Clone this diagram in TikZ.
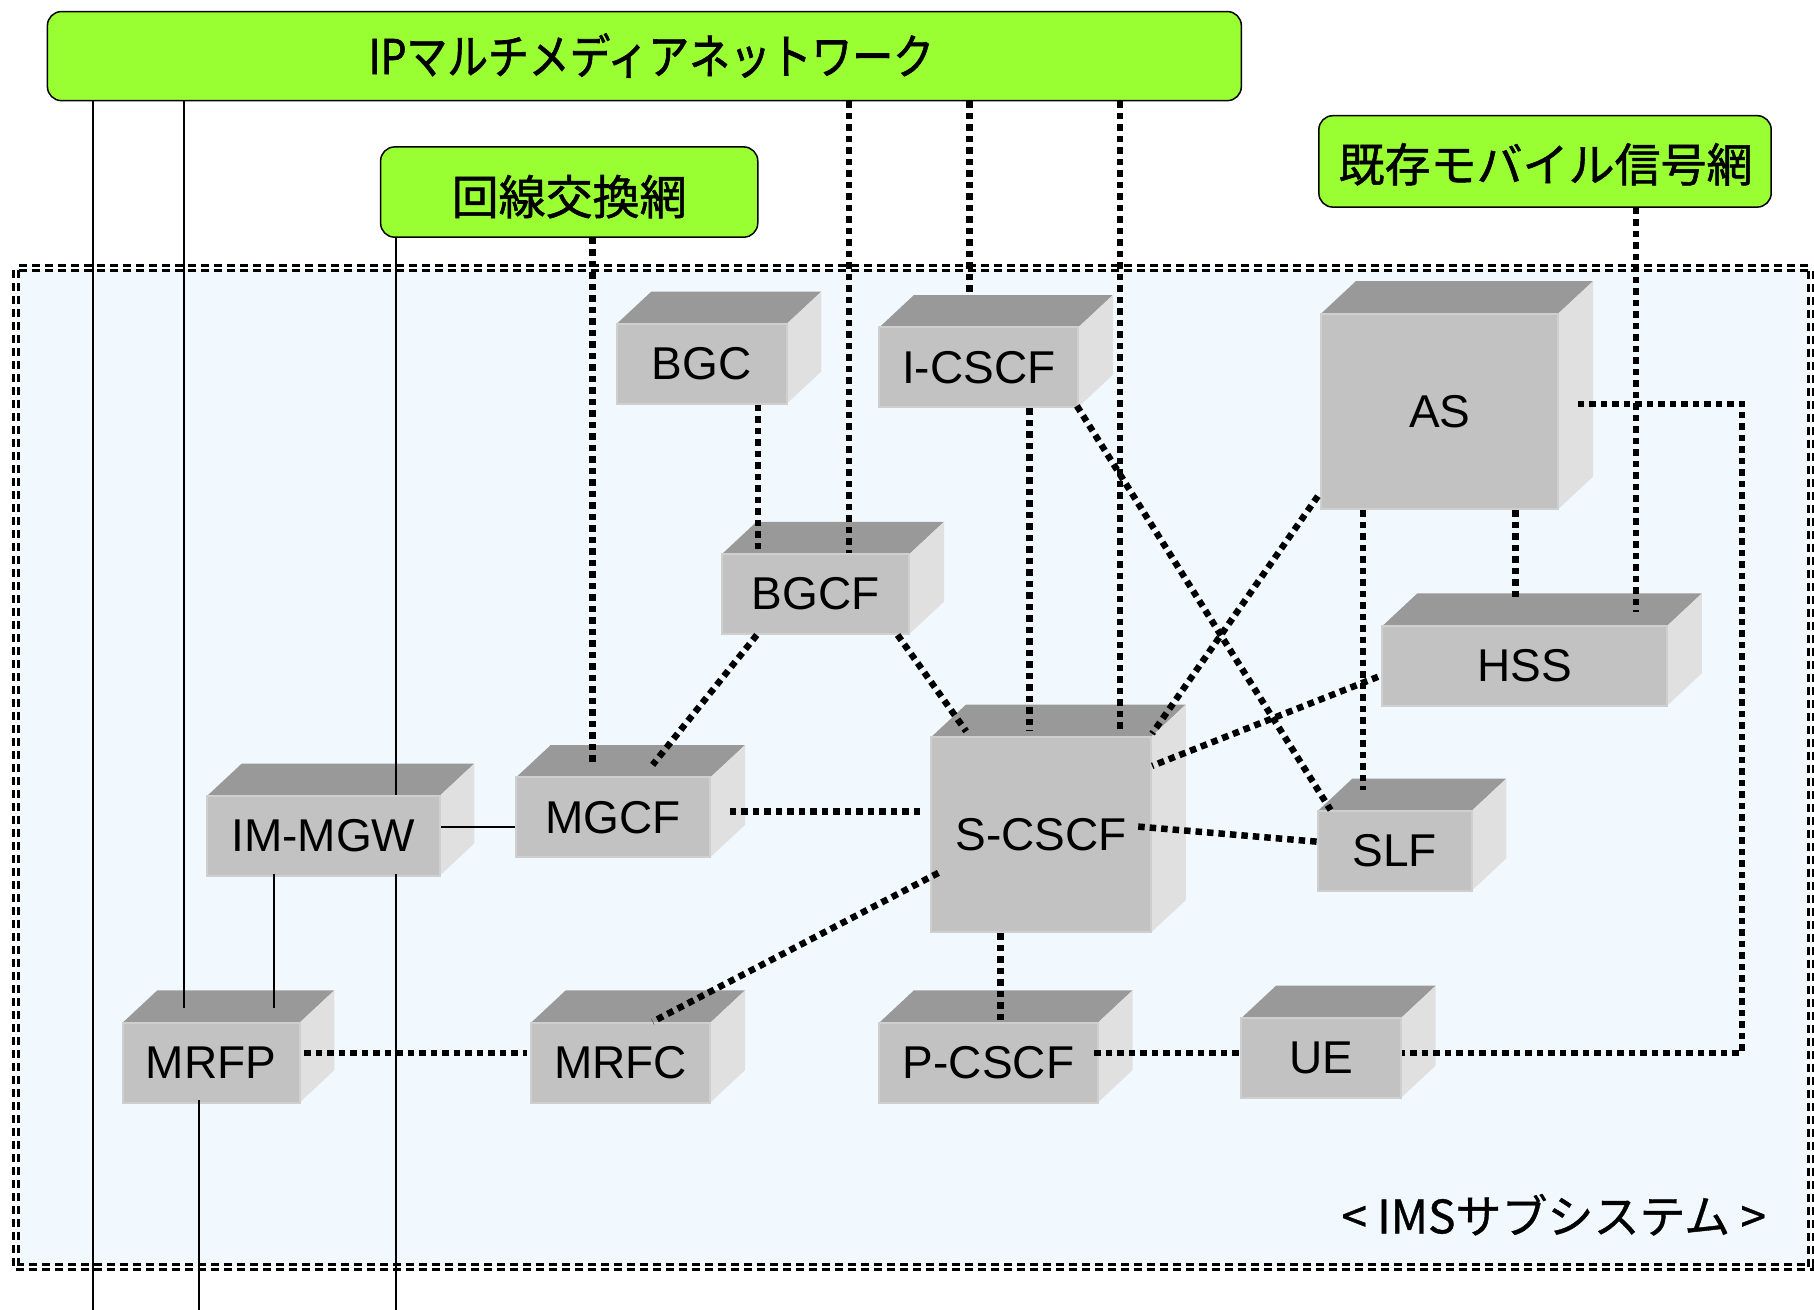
\documentclass[tikz,border=0pt]{standalone}
\usepackage{fontspec}
\setmainfont{Liberation Sans}
\newfontfamily\jp[FakeBold=1.2]{Noto Sans CJK JP}
\newfontfamily\jpl[FakeBold=0.8]{Noto Sans CJK JP}
\newfontfamily\jpc[FakeStretch=0.85,FakeBold=1.4]{Noto Sans CJK JP}
\usetikzlibrary{fit,calc}
\definecolor{netgreen}{HTML}{99FF33}
\definecolor{imsbg}{RGB}{242,249,254}
\definecolor{topgray}{HTML}{999999}
\definecolor{sidegray}{HTML}{E0E0E0}
\definecolor{frontgray}{HTML}{C2C2C2}
\definecolor{frontedge}{HTML}{CFCFCF}
\tikzset{
  gbox/.style={draw=black, line width=1.5pt, fill=netgreen, rounded corners=14pt, inner sep=0pt},
  frontface/.style={fill=frontgray, draw=frontedge, line width=2pt, inner sep=0pt},
  cubelabel/.style={inner sep=0pt, font=\fontsize{46}{46}\selectfont},
  topface/.style={fill=topgray},
  sideface/.style={fill=sidegray},
  dl/.style={line width=6.5pt, dash pattern=on 6.5pt off 5pt, black},
  sl/.style={line width=2pt, black},
  imsregion/.style={fill=imsbg, draw=black, line width=3pt, double=white, double distance=2pt,
    dash pattern=on 8pt off 5pt, inner sep=0pt}
}
\newcommand{\cube}[6]{%
  \fill[topface] (#2,#3) -- (#2+30,#3-28) -- (#4+30,#3-28) -- (#4,#3) -- cycle;
  \fill[sideface] (#4,#3) -- (#4+30,#3-28) -- (#4+30,#5-28) -- (#4,#5) -- cycle;
  \node[frontface, fit={(#2,#3) (#4,#5)}] (#1) {};
  \node[cubelabel] (#1-lbl) at (#1.center) {#6};
}
\begin{document}
\begin{tikzpicture}[x=1.15689pt, y=-1.15689pt]
\useasboundingbox (0,0) rectangle (1568,1132);
\fill[white] (0,0) rectangle (1568,1132);

% IMS subsystem region
\node[imsregion, fit={(14,232) (1565,1095)}] (IMS) {};
\node[font=\jpl\fontsize{46}{46}\selectfont] (imslbl) at (1343,1050) {< IMSサブシステム >};

% outer networks
\node[gbox, fit={(41,10) (1073,87)}] (IP) {};
\node[font=\jpc\fontsize{48}{48}\selectfont] (IPlbl) at (563,48) {IPマルチメディアネットワーク};
\node[gbox, fit={(329,127) (655,205)}] (CS) {};
\node[font=\jp\fontsize{47}{47}\selectfont] (CSlbl) at (492,170) {回線交換網};
\node[gbox, fit={(1140,100) (1531,179)}] (MOB) {};
\node[font=\jp\fontsize{46}{46}\selectfont] (MOBlbl) at (1336,142) {既存モバイル信号網};

% cubes
\cube{BGC}{533}{280}{680}{349}{BGC}
\cube{ICSCF}{760}{283}{932}{352}{I-CSCF}
\cube{AS}{1142}{271}{1347}{440}{AS}
\cube{BGCF}{624}{479}{786}{548}{BGCF}
\cube{HSS}{1195}{541}{1441}{610}{HSS}
\cube{IMMGW}{179}{688}{380}{757}{IM-MGW}
\cube{MGCF}{446}{672}{614}{741}{MGCF}
\cube{SCSCF}{805}{637}{995}{806}{S-CSCF}
\cube{SLF}{1139}{701}{1272}{770}{SLF}
\cube{MRFP}{106}{884}{259}{953}{MRFP}
\cube{MRFC}{459}{884}{614}{953}{MRFC}
\cube{PCSCF}{760}{884}{949}{953}{P-CSCF}
\cube{UE}{1073}{880}{1211}{949}{UE}

% free ends at the bottom edge
\coordinate (b1) at (80,1132);
\coordinate (b2) at (342,1132);
\coordinate (b3) at (172,1132);

% dotted connectors
\draw[dl] (IP.south -| 734,0) -- (BGCF.north -| 734,0);
\draw[dl] (IP.south -| 838,0) -- ($(ICSCF.north -| 838,0)+(0,-26)$);
\draw[dl] (IP.south -| 968,0) -- ($(SCSCF.north -| 968,0)+(0,-4)$);
\draw[dl] (CS.south -| 512,0) -- ($(MGCF.north -| 512,0)+(0,-10)$);
\draw[dl] (MOB.south -| 1414,0) -- ($(HSS.north -| 1414,0)+(0,-11)$);
\draw[dl] (BGC.south -| 655,0) -- ($(BGCF.north -| 655,0)+(0,-2)$);
\draw[dl] (ICSCF.south -| 890,0) -- ($(SCSCF.north -| 890,0)+(0,-4)$);
\draw[dl] ($(ICSCF.south east)+(-2,-2)$) -- ($(SLF.north west)+(12,0)$);
\draw[dl] ($(BGCF.south west)+(31,0)$) -- ($(MGCF.north west)+(119,-10)$);
\draw[dl] ($(BGCF.south east)+(-11,0)$) -- ($(SCSCF.north west)+(31,-4)$);
\draw[dl] ($(AS.south west)+(-2,-12)$) -- ($(SCSCF.north east)+(0,-2)$);
\draw[dl] (AS.south -| 1310,0) -- ($(HSS.north -| 1310,0)+(0,-24)$);
\draw[dl] (AS.south -| 1178,0) -- ($(SLF.north -| 1178,0)+(0,-17)$);
\draw[dl] ($(AS.east)+(16,-6.5)$) -- ++(142,0) |- ($(UE.east)+(0,-4.5)$);
\draw[dl] ($(HSS.west)+(-3,9.5)$) -- ($(SCSCF.east)+(0,-59.5)$);
\draw[dl] ($(SCSCF.east)+(-12,-7)$) -- ($(SLF.west)+(0,-8)$);
\draw[dl] ($(MGCF.east)+(16,-5)$) -- ($(SCSCF.west)+(-5,-20)$);
\draw[dl] ($(SCSCF.west)+(7,33)$) -- ($(MRFC.north west)+(106,0)$);
\draw[dl] (SCSCF.south -| 865,0) -- (PCSCF.north -| 865,0);
\draw[dl] ($(PCSCF.east)+(-4,-8.5)$) -- ($(UE.west)+(0,-4.5)$);
\draw[dl] ($(MRFP.east)+(3,-8.5)$) -- ($(MRFC.west)+(-3,-8.5)$);

% solid connectors
\draw[sl] ($(IMMGW.east)+(0,-7.5)$) -- ($(MGCF.west)+(0,8.5)$);
\draw[sl] ($(IMMGW.south -| 237,0)+(0,-2)$) -- ($(MRFP.north -| 237,0)+(0,-12)$);
\draw[sl] (IP.south -| 159,0) -- ($(MRFP.north -| 159,0)+(0,-12)$);
\draw[sl] (IP.south -| 80,0) -- (b1);
\draw[sl] (CS.south -| 342,0) -- (IMMGW.north -| 342,0);
\draw[sl] ($(IMMGW.south -| 342,0)+(0,-2)$) -- (b2);
\draw[sl] ($(MRFP.south -| 172,0)+(0,-3)$) -- (b3);
\end{tikzpicture}
\end{document}
